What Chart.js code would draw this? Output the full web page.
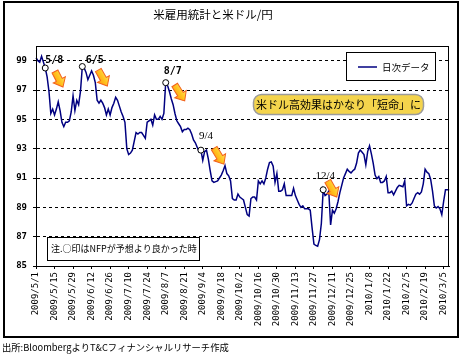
<!DOCTYPE html>
<html><head><meta charset="utf-8">
<script src="https://cdn.jsdelivr.net/npm/chart.js@4"></script>
<style>html,body{margin:0;padding:0;background:#fff}canvas{display:block}</style>
</head><body>
<canvas id="c" width="463" height="357"></canvas>
<script>
const tickLabels = ['2009/5/1','2009/5/15','2009/5/29','2009/6/12','2009/6/26','2009/7/10','2009/7/24','2009/8/7','2009/8/21','2009/9/4','2009/9/18','2009/10/2','2009/10/16','2009/10/30','2009/11/13','2009/11/27','2009/12/11','2009/12/25','2010/1/8','2010/1/22','2010/2/5','2010/2/19','2010/3/5'];
const values = [
99.2,99.0,98.9,99.3,98.9,98.5,97.9,96.9,95.4,95.7,
95.3,95.7,96.2,95.6,94.8,94.5,94.8,94.8,94.9,95.5,
96.6,95.6,96.3,96.0,96.9,98.6,98.5,98.2,97.7,98.0,
98.3,98.0,97.5,96.3,96.1,96.3,96.1,95.8,95.3,95.7,
95.3,95.8,96.1,96.5,96.3,95.9,95.5,95.2,94.8,93.0,
92.6,92.7,92.9,93.5,94.1,94.0,94.1,94.1,93.9,93.7,
94.8,94.9,95.0,94.6,95.3,95.0,95.0,95.2,95.0,95.4,
97.5,97.3,96.9,96.4,96.0,95.4,94.9,94.7,94.5,94.15,
94.3,94.3,94.4,94.3,94.0,93.6,93.4,93.1,92.8,92.9,
92.2,92.8,92.9,92.3,91.5,90.8,90.7,90.75,90.8,91.0,
91.2,91.5,91.85,91.3,91.15,90.8,89.6,89.5,89.5,89.9,
89.7,89.6,89.5,89.0,88.5,88.4,89.6,89.7,89.7,89.5,
90.8,90.6,90.8,90.6,91.0,91.6,92.05,92.1,91.8,90.7,
91.3,90.1,90.1,90.2,90.6,89.8,89.8,89.8,89.8,90.3,
89.8,89.5,89.2,89.0,89.1,88.9,88.9,88.9,88.8,87.6,
86.5,86.4,86.35,86.8,87.9,90.2,89.8,89.9,90.1,87.8,
88.8,88.6,88.9,89.4,90.0,90.5,91.0,91.3,91.6,91.45,
91.35,91.5,91.6,92.0,92.7,92.9,92.75,92.6,91.9,92.8,
93.2,92.65,92.0,91.2,90.95,91.1,90.7,90.7,90.8,91.1,
90.0,90.0,90.1,89.85,90.1,90.35,90.5,90.45,90.4,90.8,
89.1,89.2,89.15,89.3,89.6,89.9,90.0,89.9,90.05,90.6,
91.6,91.4,91.3,90.9,90.1,89.1,88.95,89.05,88.9,88.5,
89.4,90.2,90.2,90.2
];
const yTicks = [85,87,89,91,93,95,97,99];
const markerIdx = [5,25,70,89,155];
const markerText = ['5/8','6/5','8/7','9/4','12/4'];
const labelOffset = [[9,-8],[12.5,-6.5],[7,-11],[5,-14],[2,-14]];
const arrowOffset = [[9.7,3.5,17.7,19],[16,3.5,25,19.5],[9,2.3,19,18.3],[13.3,-2,23,14],[4.6,-8.7,13.6,7.3]];

// weekday categories starting 2009/5/1
const categories = [];
{ const d = new Date(2009,4,1);
  while (categories.length < values.length) {
    const w = d.getDay();
    if (w !== 0 && w !== 6) categories.push(d.getFullYear()+'/'+(d.getMonth()+1)+'/'+d.getDate());
    d.setDate(d.getDate()+1);
  } }

const JP = '"Noto Sans CJK JP", "Noto Sans", sans-serif';

function arrow(c, x1, y1, x2, y2) {
  const ang = Math.atan2(y2-y1, x2-x1), L = Math.hypot(x2-x1, y2-y1);
  c.save(); c.translate(x1, y1); c.rotate(ang);
  const sw = 3.3, hw = 6.8, hl = 8;
  c.beginPath();
  c.moveTo(0,-sw); c.lineTo(L-hl,-sw); c.lineTo(L-hl,-hw); c.lineTo(L,0);
  c.lineTo(L-hl,hw); c.lineTo(L-hl,sw); c.lineTo(0,sw); c.closePath();
  const g = c.createLinearGradient(0,-hw,0,hw);
  g.addColorStop(0,'#FFE45A'); g.addColorStop(0.5,'#FFC21E'); g.addColorStop(1,'#FF9410');
  c.fillStyle = g; c.fill();
  c.strokeStyle = '#F2601C'; c.lineWidth = 1; c.stroke();
  c.restore();
}

const deco = {
  id: 'deco',
  beforeDraw(chart) {
    const c = chart.ctx; c.save(); c.fillStyle = '#fff'; c.fillRect(0,0,chart.width,chart.height); c.restore();
  },
  afterDraw(chart) {
    const c = chart.ctx, a = chart.chartArea, xs = chart.scales.x, ys = chart.scales.y;
    c.save();
    // plot frame
    c.strokeStyle = '#000'; c.lineWidth = 1;
    c.strokeRect(Math.round(a.left)+0.5, Math.round(a.top)+0.5, Math.round(a.right-a.left)-1, Math.round(a.bottom-a.top));
    // outer border
    c.lineWidth = 2; c.strokeRect(4, 2, 454, 335);
    // title
    c.fillStyle = '#000'; c.textBaseline = 'middle'; c.textAlign = 'center';
    c.font = '11.5px ' + JP;
    c.fillText('米雇用統計と米ドル/円', 213, 15);
    // legend
    c.fillStyle = '#fff'; c.fillRect(346.5, 52.5, 89, 28);
    c.strokeStyle = '#000'; c.lineWidth = 1; c.strokeRect(346.5, 52.5, 89, 28);
    c.strokeStyle = '#000080'; c.lineWidth = 1.5;
    c.beginPath(); c.moveTo(358, 67); c.lineTo(377, 67); c.stroke();
    c.fillStyle = '#000'; c.textAlign = 'left'; c.font = '9.5px ' + JP;
    c.fillText('日次データ', 382, 67);
    // yellow callout
    c.beginPath(); c.roundRect(253.5, 94.5, 170, 20, 8);
    c.fillStyle = '#F4D44C'; c.fill();
    c.strokeStyle = '#9C9C9C'; c.lineWidth = 1.5; c.stroke();
    c.fillStyle = '#000'; c.textAlign = 'center'; c.font = '11px ' + JP;
    c.fillText('米ドル高効果はかなり「短命」に', 338.5, 105);
    // note box
    c.fillStyle = '#fff'; c.fillRect(47.5, 237.5, 152, 23);
    c.strokeStyle = '#000'; c.lineWidth = 1; c.strokeRect(47.5, 237.5, 152, 23);
    c.fillStyle = '#000'; c.textAlign = 'left'; c.font = '9px ' + JP;
    c.fillText('注.○印はNFPが予想より良かった時', 51, 249);
    // source
    c.font = '9.3px ' + JP;
    c.fillText('出所:BloombergよりT&Cフィナンシャルリサーチ作成', 2, 347);
    // marker labels and arrows
    markerIdx.forEach((idx, k) => {
      const px = xs.getPixelForValue(idx), py = ys.getPixelForValue(values[idx]);
      c.fillStyle = '#000'; c.textAlign = 'center';
      c.font = (k < 3 ? 'bold 10px "DejaVu Sans Mono"' : '11px "Liberation Serif"');
      c.fillText(markerText[k], px + labelOffset[k][0], py + labelOffset[k][1]);
      const o = arrowOffset[k];
      arrow(c, px + o[0], py + o[1], px + o[2], py + o[3]);
    });
    c.restore();
  }
};

new Chart(document.getElementById('c'), {
  type: 'line',
  data: {
    labels: categories,
    datasets: [{
      label: '日次データ',
      data: values,
      borderColor: '#000080',
      borderWidth: 1.5,
      tension: 0,
      fill: false,
      pointRadius: ctx => markerIdx.includes(ctx.dataIndex) ? 3 : 0,
      pointHoverRadius: 0,
      pointBackgroundColor: '#fff',
      pointBorderColor: '#000',
      pointBorderWidth: 1
    }]
  },
  options: {
    responsive: false,
    animation: false,
    devicePixelRatio: 1,
    layout: { padding: { left: 0, top: 46, right: 11, bottom: 0 } },
    plugins: { legend: { display: false }, title: { display: false }, tooltip: { enabled: false } },
    scales: {
      x: {
        type: 'category',
        offset: false,
        afterFit: s => { s.height = 91; },
        grid: {
          drawOnChartArea: false, drawTicks: true, tickLength: 3,
          color: ctx => (ctx.index % 10 === 0 ? '#000' : 'rgba(0,0,0,0)'),
          tickColor: ctx => (ctx.index % 10 === 0 ? '#000' : 'rgba(0,0,0,0)'),
          tickBorderDash: []
        },
        border: { display: true, color: '#000', width: 1 },
        ticks: {
          autoSkip: false, minRotation: 90, maxRotation: 90, padding: 3,
          color: '#000', font: { family: 'DejaVu Sans Mono', size: 9 },
          callback: (v, i) => (i % 10 === 0 ? tickLabels[i / 10] : '')
        }
      },
      y: {
        min: 85, max: 100,
        afterBuildTicks: s => { s.ticks = yTicks.map(v => ({ value: v })); },
        afterFit: s => { s.width = 36; },
        grid: { color: '#000', lineWidth: 1, tickLength: 3, tickColor: '#000', tickBorderDash: [] },
        border: { display: true, color: '#000', width: 1, dash: [3, 3] },
        ticks: { color: '#000', padding: 6, font: { family: 'DejaVu Sans Mono', size: 9, weight: 'bold' } }
      }
    }
  },
  plugins: [deco]
});
</script>
</body></html>
